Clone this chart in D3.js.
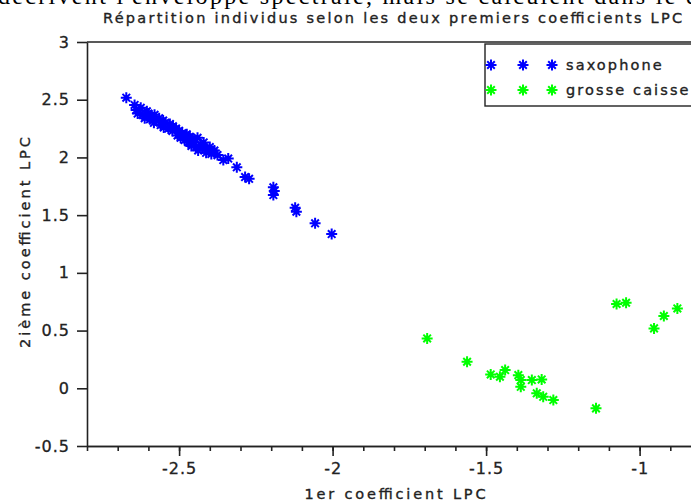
<!DOCTYPE html>
<html lang="fr">
<head>
<meta charset="UTF-8">
<title>Répartition individus LPC</title>
<script src="https://d3js.org/d3.v7.min.js"></script>
<style>
    body { margin: 0; padding: 0; background: #fff; }
    svg { display: block; }
    .axis path, .axis line { stroke: #222; stroke-width: 1.6; }
    .axis text { font-family: "DejaVu Sans", Verdana, sans-serif; font-size: 16px; fill: #222; letter-spacing: 1px;
                 stroke: #222; stroke-width: 0.3px; }
    .lbl { font-family: "DejaVu Sans", Verdana, sans-serif; fill: #222; stroke: #222; stroke-width: 0.35px; }
</style>
</head>
<body>
<svg id="chart" width="691" height="503"></svg>
<script>
    // saxophone (blue)
    const saxX = [-2.672, -2.645, -2.640, -2.635, -2.625, -2.620, -2.612, -2.605, -2.600, -2.595,
                  -2.590, -2.582, -2.580, -2.575, -2.565, -2.560, -2.552, -2.550, -2.545, -2.535,
                  -2.530, -2.522, -2.520, -2.510, -2.505, -2.500, -2.495, -2.490, -2.482, -2.480,
                  -2.475, -2.470, -2.465, -2.460, -2.455, -2.450, -2.445, -2.440, -2.438, -2.430,
                  -2.425, -2.420, -2.412, -2.410, -2.400, -2.395, -2.385, -2.375, -2.356, -2.340,
                  -2.312, -2.285, -2.272, -2.193, -2.190, -2.193, -2.122, -2.118, -2.057, -2.003];
    const saxY = [2.518, 2.455, 2.410, 2.380, 2.430, 2.370, 2.340, 2.400, 2.380, 2.330,
                  2.360, 2.300, 2.370, 2.320, 2.340, 2.280, 2.320, 2.260, 2.300, 2.250,
                  2.290, 2.230, 2.270, 2.250, 2.190, 2.230, 2.170, 2.210, 2.150, 2.190,
                  2.200, 2.130, 2.180, 2.100, 2.160, 2.130, 2.090, 2.170, 2.060, 2.110,
                  2.080, 2.130, 2.040, 2.070, 2.090, 2.030, 2.060, 2.020, 1.977, 1.990,
                  1.914, 1.830, 1.815, 1.741, 1.710, 1.674, 1.564, 1.530, 1.429, 1.336];

    // grosse caisse (green)
    const caisseX = [-1.692, -1.562, -1.485, -1.455, -1.438, -1.395, -1.387, -1.387, -1.351, -1.319,
                     -1.335, -1.314, -1.281, -1.142, -1.075, -1.044, -0.953, -0.921, -0.877];
    const caisseY = [0.432, 0.230, 0.120, 0.100, 0.158, 0.114, 0.071, 0.013, 0.071, 0.077,
                     -0.044, -0.074, -0.102, -0.174, 0.730, 0.741, 0.519, 0.626, 0.692];

    const xTicks = [-2.5, -2, -1.5, -1];
    const xTickLabels = ["-2.5", "-2", "-1.5", "-1"];
    const xMinorTicks = d3.range(-28, -7).map(d => d / 10);
    const yTicks = [-0.5, 0, 0.5, 1, 1.5, 2, 2.5, 3];
    const yTickLabels = ["-0.5", "0", "0.5", "1", "1.5", "2", "2.5", "3"];

    const seriesNames = ["saxophone", "grosse caisse"];
    const seriesColors = ["#0000ff", "#00ff00"];

    const margin = { left: 87, top: 42 };
    const plotW = 614, plotH = 404;

    const svg = d3.select("#chart");

    // bit of the surrounding document, cut off at the top
    svg.append("text")
        .attr("x", -2).attr("y", 4)
        .attr("textLength", 700)
        .attr("lengthAdjust", "spacing")
        .style("font-family", "'Liberation Serif', 'Times New Roman', serif")
        .style("font-size", "24px")
        .style("fill", "#000")
        .text("décrivent l'enveloppe spectrale, mais se calculent dans le d");

    const x = d3.scaleLinear().domain([-2.8, -0.8]).range([margin.left, margin.left + plotW]);
    const y = d3.scaleLinear().domain([-0.5, 3]).range([margin.top + plotH, margin.top]);

    const star = "M-5.5,0H5.5M0,-5.5V5.5M-3.8,-3.8L3.8,3.8M-3.8,3.8L3.8,-3.8";

    // top border of the axes box
    svg.append("line")
        .attr("x1", x(-2.8)).attr("x2", x(-0.8))
        .attr("y1", y(3)).attr("y2", y(3))
        .attr("stroke", "#222").attr("stroke-width", 1.6);

    // minor x ticks
    svg.append("g")
        .attr("class", "axis")
        .attr("transform", `translate(0,${y(-0.5)})`)
        .call(d3.axisBottom(x).tickValues(xMinorTicks).tickSize(5).tickSizeOuter(0).tickFormat(""));

    // major x ticks
    svg.append("g")
        .attr("class", "axis")
        .attr("transform", `translate(0,${y(-0.5)})`)
        .call(d3.axisBottom(x).tickValues(xTicks).tickSize(10).tickSizeOuter(0).tickPadding(7)
            .tickFormat((d, i) => xTickLabels[i]));

    svg.append("g")
        .attr("class", "axis")
        .attr("transform", `translate(${x(-2.8)},0)`)
        .call(d3.axisLeft(y).tickValues(yTicks).tickSize(10).tickSizeOuter(0).tickPadding(7)
            .tickFormat((d, i) => yTickLabels[i]));

    // points
    const sets = [
        { xs: saxX, ys: saxY, color: seriesColors[0] },
        { xs: caisseX, ys: caisseY, color: seriesColors[1] }
    ];
    sets.forEach(s => {
        svg.append("g").selectAll("path")
            .data(s.xs.map((v, i) => [v, s.ys[i]]))
            .join("path")
            .attr("d", star)
            .attr("transform", d => `translate(${x(d[0])},${y(d[1])})`)
            .attr("fill", "none")
            .attr("stroke", s.color)
            .attr("stroke-width", 2);
    });

    // title and axis labels
    svg.append("text").attr("class", "lbl")
        .attr("x", 392.5).attr("y", 23)
        .attr("text-anchor", "middle")
        .attr("textLength", 579).attr("lengthAdjust", "spacing")
        .style("font-size", "14.5px")
        .text("Répartition individus selon les deux premiers coefficients LPC");

    svg.append("text").attr("class", "lbl")
        .attr("x", 395).attr("y", 499)
        .attr("text-anchor", "middle")
        .attr("textLength", 181).attr("lengthAdjust", "spacing")
        .style("font-size", "14.5px")
        .text("1er coefficient LPC");

    svg.append("text").attr("class", "lbl")
        .attr("transform", "translate(30,242.5) rotate(-90)")
        .attr("text-anchor", "middle")
        .attr("textLength", 211).attr("lengthAdjust", "spacing")
        .style("font-size", "14.5px")
        .text("2ième coefficient LPC");

    // legend
    const legend = svg.append("g");
    legend.append("rect")
        .attr("x", 485).attr("y", 44)
        .attr("width", 230).attr("height", 62)
        .attr("fill", "#fff")
        .attr("stroke", "#222").attr("stroke-width", 1.4);

    seriesNames.forEach((name, i) => {
        const ry = 65 + i * 25;
        [491, 523, 552].forEach(mx => {
            legend.append("path")
                .attr("d", star)
                .attr("transform", `translate(${mx},${ry})`)
                .attr("fill", "none")
                .attr("stroke", seriesColors[i])
                .attr("stroke-width", 2);
        });
        legend.append("text").attr("class", "lbl")
            .attr("x", 566).attr("y", ry + 5)
            .style("font-size", "14.5px")
            .style("letter-spacing", "2.1px")
            .text(name);
    });
</script>
</body>
</html>
